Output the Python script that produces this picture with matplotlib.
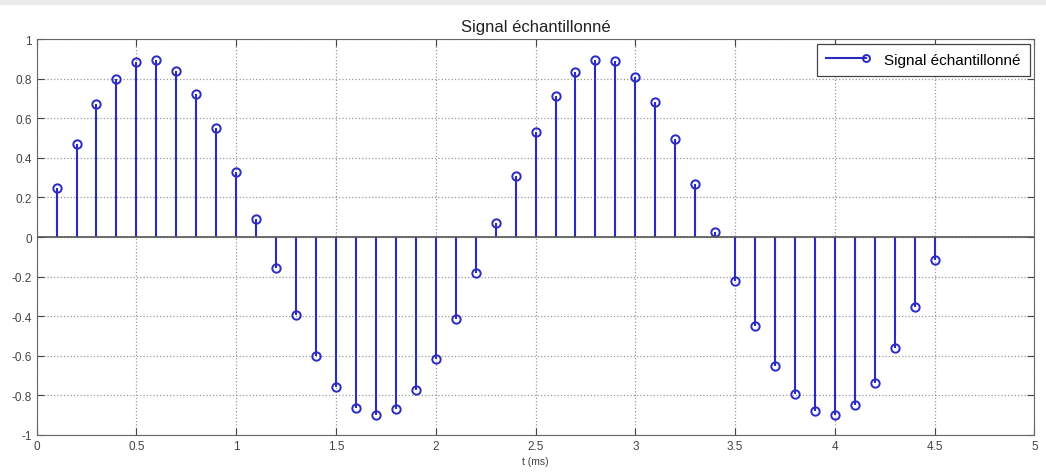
import matplotlib
matplotlib.use("Agg")
import matplotlib.pyplot as plt
from matplotlib.lines import Line2D

t = [0.1, 0.2, 0.3, 0.4, 0.5, 0.6, 0.7, 0.8, 0.9, 1.0,
     1.1, 1.2, 1.3, 1.4, 1.5, 1.6, 1.7, 1.8, 1.9, 2.0,
     2.1, 2.2, 2.3, 2.4, 2.5, 2.6, 2.7, 2.8, 2.9, 3.0,
     3.1, 3.2, 3.3, 3.4, 3.5, 3.6, 3.7, 3.8, 3.9, 4.0,
     4.1, 4.2, 4.3, 4.4, 4.5]
signal = [0.25, 0.47, 0.67, 0.80, 0.885, 0.895, 0.84, 0.725, 0.55, 0.33,
          0.09, -0.155, -0.395, -0.60, -0.76, -0.865, -0.90, -0.87, -0.775, -0.615,
          -0.415, -0.18, 0.07, 0.31, 0.53, 0.71, 0.835, 0.895, 0.89, 0.81,
          0.68, 0.495, 0.27, 0.025, -0.22, -0.45, -0.65, -0.795, -0.88, -0.90,
          -0.85, -0.735, -0.56, -0.355, -0.115]

xticks = [0, 0.5, 1, 1.5, 2, 2.5, 3, 3.5, 4, 4.5, 5]
yticks = [-1, -0.8, -0.6, -0.4, -0.2, 0, 0.2, 0.4, 0.6, 0.8, 1]

plt.rcParams['font.family'] = ['Liberation Sans', 'DejaVu Sans']

fig = plt.figure(figsize=(10.46, 4.77), dpi=100)
# thin grey band at the very top of the screenshot
fig.patches.append(plt.Rectangle((0, 0.99), 1, 0.01, transform=fig.transFigure,
                                 color='#ececec', zorder=0))
ax = fig.add_axes([0.035, 0.086, 0.954, 0.830])

blue = '#2b2bc4'
markers, stems, base = ax.stem(t, signal, linefmt='-', markerfmt='o', basefmt='-')
plt.setp(stems, color=blue, linewidth=1.5)
plt.setp(markers, markerfacecolor='none', markeredgecolor=blue,
         markersize=6, markeredgewidth=1.4)
plt.setp(base, color='#555555', linewidth=1.2)
base.set_xdata([0, 5])

ax.set_xlim(0, 5)
ax.set_ylim(-1, 1)
ax.set_xticks(xticks)
ax.set_xticklabels([f'{v:g}' for v in xticks])
ax.set_yticks(yticks)
ax.set_yticklabels([f'{v:g}' for v in yticks])
ax.tick_params(direction='in', top=True, right=True, labelsize=8.5,
               length=5, colors='#444444', labelcolor='#444444')
ax.grid(True, linestyle=':', color='#999999', linewidth=0.9)
for s in ax.spines.values():
    s.set_color('#666666')

ax.set_title('Signal échantillonné', fontsize=12, color='#222222', pad=6)
ax.set_xlabel('t (ms)', fontsize=7.5, color='#444444', labelpad=3)

handle = Line2D([], [], color=blue, linewidth=1.5, marker='o', markersize=5,
                markerfacecolor='none', markeredgecolor=blue, markeredgewidth=1.4)
leg = ax.legend([handle], ['Signal échantillonné'], loc='upper right', fontsize=11,
                fancybox=False, framealpha=1, edgecolor='#444444',
                borderaxespad=0.3, borderpad=0.6, handlelength=2.6,
                handletextpad=1.2, numpoints=1)
leg.get_frame().set_linewidth(0.9)
# matlab style: marker sits at the right end of the legend line
leg.get_lines()[0].set_markevery([2])

fig.savefig('out.png', dpi=100)
